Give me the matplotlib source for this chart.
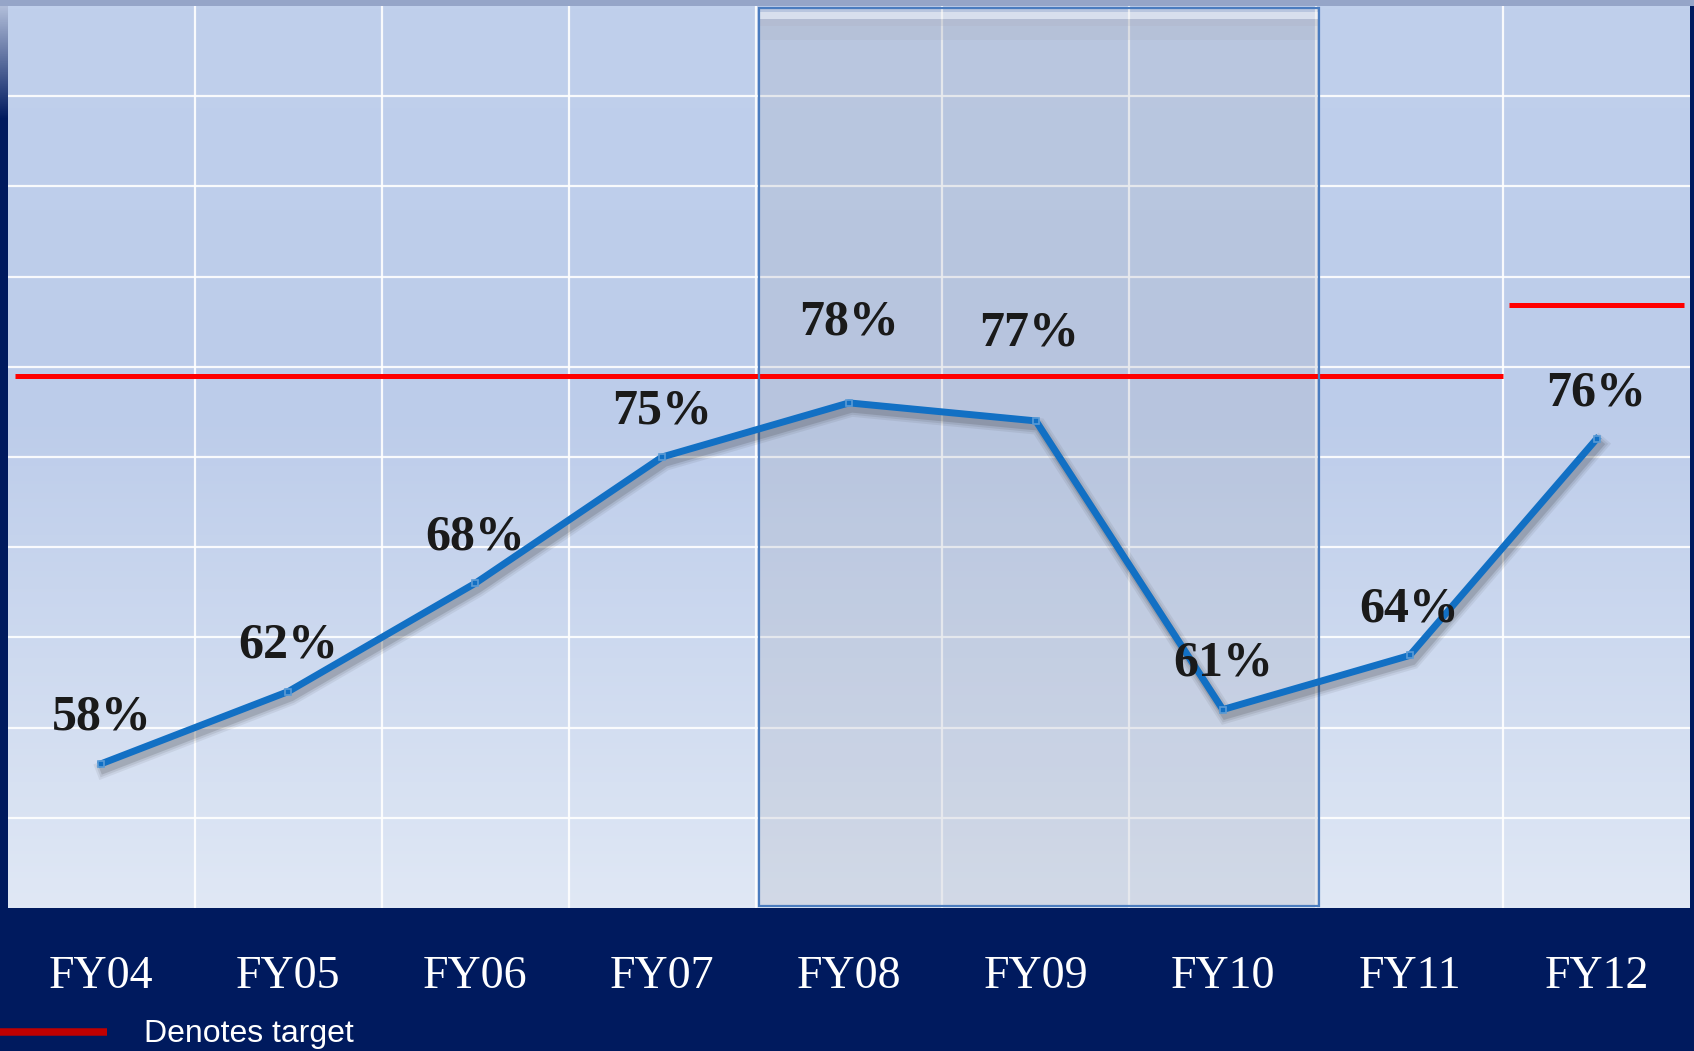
import matplotlib.pyplot as plt
import matplotlib.patheffects as pe
from matplotlib.patches import Rectangle
import numpy as np

years = ['FY04', 'FY05', 'FY06', 'FY07', 'FY08', 'FY09', 'FY10', 'FY11', 'FY12']
rates = [58, 62, 68, 75, 78, 77, 61, 64, 76]
target_main = 79.5      # FY04 - FY11
target_fy12 = 83.4
highlight = ['FY08', 'FY09', 'FY10']

navy = '#001A5E'
line_blue = '#1270C4'

fig = plt.figure(figsize=(16.94, 10.51), dpi=100)
fig.patch.set_facecolor(navy)

W, H = 1694, 1051
ax = fig.add_axes([8 / W, (H - 908) / H, (1690 - 8) / W, (908 - 6) / H])

# top strip and left edge fade
fig.patches.append(Rectangle((0, (H - 6) / H), 1, 6 / H, transform=fig.transFigure,
                             facecolor='#95A5C8', edgecolor='none', zorder=0))
edge = fig.add_axes([0, (H - 120) / H, 8 / W, 114 / H])
t = np.linspace(0, 1, 50)
c0 = np.array([0.69, 0.74, 0.85])
c1 = np.array([0.0, 0.10, 0.37])
edge.imshow((c0 + (c1 - c0) * t[:, None])[:, None, :], aspect='auto', extent=[0, 1, 0, 1])
edge.axis('off')

ax.set_xlim(-0.5, 8.5)
ax.set_ylim(50, 100)

# background gradient
yy = np.linspace(0, 1, 300)
stops = [0, 0.45, 1]
cols = np.array([[192, 208, 236], [188, 204, 234], [224, 232, 245]]) / 255
grad = np.stack([np.interp(yy, stops, cols[:, k]) for k in range(3)], axis=-1)
ax.imshow(grad[:, None, :], aspect='auto', extent=[-0.5, 8.5, 50, 100], zorder=0)

# grid
for v in np.arange(55, 100, 5):
    ax.axhline(v, color='white', lw=1.6, alpha=0.9, zorder=1)
for b in np.arange(0.5, 8.5, 1):
    ax.axvline(b, color='white', lw=1.6, alpha=0.9, zorder=1)

# highlighted years box
i0 = years.index(highlight[0]) - 0.48
i1 = years.index(highlight[-1]) + 0.513
ax.add_patch(Rectangle((i0, 50.1), i1 - i0, 49.8, facecolor='#A9AFBE', alpha=0.25,
                       edgecolor='none', zorder=2))
ax.add_patch(Rectangle((i0, 99.28), i1 - i0, 0.39, facecolor='white', alpha=0.45,
                       edgecolor='none', zorder=2))
ax.add_patch(Rectangle((i0, 98.9), i1 - i0, 0.38, facecolor='#A8ACBA', alpha=0.35,
                       edgecolor='none', zorder=2))
ax.add_patch(Rectangle((i0, 98.1), i1 - i0, 0.8, facecolor='#A8ACBA', alpha=0.18,
                       edgecolor='none', zorder=2))

# targets
ax.plot([-0.46, 7.497], [target_main, target_main], color='#FF0000', lw=3.6,
        solid_capstyle='butt', zorder=3)
ax.plot([7.53, 8.47], [target_fy12, target_fy12], color='#FF0000', lw=3.6,
        solid_capstyle='butt', zorder=3)

ax.add_patch(Rectangle((i0, 50.1), i1 - i0, 49.8, facecolor='none',
                       edgecolor='#4A7CBF', lw=1.6, zorder=4))

# series with soft shadow
x = np.arange(len(years))
shadow = [pe.SimpleLineShadow(offset=(2, -4), shadow_color='#202020', alpha=a, linewidth=w)
          for a, w in [(0.07, 12), (0.09, 9), (0.14, 6)]]
ax.plot(x, rates, color=line_blue, lw=5, solid_joinstyle='miter', zorder=5,
        path_effects=shadow + [pe.Normal()])
ax.plot(x, rates, ls='none', marker='s', ms=5, mfc='none', mec='#5B9BD5', mew=1.2, zorder=6)

# value labels
label_dx = {5: -5}
label_dy = {4: 58, 5: 63}
for i, r in enumerate(rates):
    ax.annotate(f'{r}%', (i, r), xytext=(label_dx.get(i, 0), label_dy.get(i, 33)),
                textcoords='offset points', ha='center', va='center',
                fontsize=36, fontweight='bold', family='Liberation Serif',
                color='#1A1A1A', zorder=7)

# year labels in the navy band
for i, yr in enumerate(years):
    ax.annotate(yr, (i, 0), xycoords=('data', 'axes fraction'), xytext=(0, -57.6),
                textcoords='offset points', ha='center', va='baseline',
                fontsize=33, family='Liberation Serif', color='white',
                annotation_clip=False)

ax.set_xticks([])
ax.set_yticks([])
for s in ax.spines.values():
    s.set_visible(False)

# key
fig.add_artist(plt.Line2D([0, 107 / W], [(H - 1032) / H] * 2, transform=fig.transFigure,
                          color='#C00000', lw=5.4, solid_capstyle='butt'))
fig.text(144 / W, (H - 1034) / H, 'Denotes target', fontsize=23, color='white',
         family='Liberation Sans', va='center', ha='left')

fig.savefig('out.png', dpi=100, facecolor=fig.get_facecolor())
